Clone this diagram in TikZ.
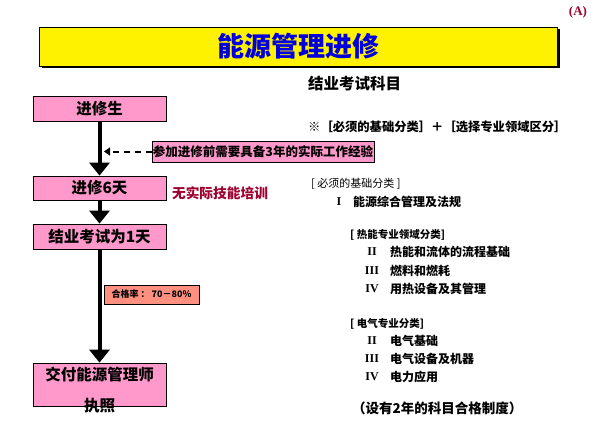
\documentclass[tikz,border=0pt]{standalone}
\usepackage{fontspec}
\newfontfamily\cjk{Noto Sans CJK SC}
\newfontfamily\serifb{Liberation Serif}
\usetikzlibrary{arrows.meta,shadows}
\definecolor{boxpink}{HTML}{FF99CC}
\definecolor{passfill}{HTML}{FF9080}
\definecolor{titleblue}{HTML}{0000DD}
\definecolor{darkred}{HTML}{A00030}
\newcommand{\fs}[1]{\fontsize{#1}{#1}\selectfont}
\begin{document}
\begin{tikzpicture}[x=1pt,y=-1pt,
  flowbox/.style={draw=black, line width=0.8pt, fill=boxpink, minimum width=133pt, minimum height=25pt, inner sep=0pt, font=\cjk\bfseries\fs{15.5}},
  bigarrow/.style={line width=4pt, -{Triangle[width=20pt,length=13pt]}},
  dasharrow/.style={line width=2pt, dash pattern=on 6pt off 5pt, -{Triangle[width=8pt,length=6pt]}},
  rtext/.style={anchor=west, inner sep=0pt, font=\cjk\bfseries\fs{12}},
  numeral/.style={inner sep=0pt, font=\serifb\bfseries\fs{12}},
  cathead/.style={anchor=west, inner sep=0pt, font=\cjk\bfseries\fs{10.5}}
]
\useasboundingbox (0,0) rectangle (595,444);
\fill[white] (0,0) rectangle (595,444);

% label (A)
\node[text=darkred, font=\serifb\bfseries\fs{13}, inner sep=0pt] (tagA) at (578,12) {(A)};

% title
\node[draw=black, line width=0.8pt, fill=yellow, minimum width=518pt, minimum height=39pt, inner sep=0pt,
  drop shadow={shadow xshift=2.5pt, shadow yshift=-2.5pt, fill=black, opacity=1},
  text=titleblue, font=\cjk\bfseries\fs{27}] (title) at (298,46.5) {能源管理进修};

% flow boxes
\node[flowbox] (s1) at (99.5,108.5) {进修生};
\node[flowbox, minimum height=24pt] (s2) at (99.5,188) {进修6天};
\node[flowbox] (s3) at (99.5,236.5) {结业考试为1天};
\node[flowbox, minimum height=43pt] (s4) at (99.5,384.5) {};
\node[inner sep=0pt, align=center, font=\cjk\bfseries\fontsize{15.5}{31}\selectfont] (s4text) at (99.5,390.5) {交付能源管理师\\执照};

\draw[bigarrow] (s1) -- (s2);
\draw[bigarrow] (s2) -- (s3);
\draw[bigarrow] (s3) -- (s4);

% requirement note
\node[draw=black, line width=0.8pt, fill=boxpink, minimum width=222pt, minimum height=21pt, inner sep=0pt,
  font=\cjk\bfseries\fs{12.5}] (req) at (263,151.5) {参加进修前需要具备3年的实际工作经验};
\coordinate (dhit) at (104,151.5);
\draw[dasharrow] (req.west) -- (dhit);

% red note
\node[text=darkred, font=\cjk\bfseries\fs{13.7}, inner sep=0pt] (nosk) at (220,193) {无实际技能培训};

% pass rate
\node[draw=black, line width=0.8pt, fill=passfill, minimum width=95pt, minimum height=19pt, inner sep=0pt,
  font=\cjk\bfseries\fs{9}] (pass) at (151.5,294.5) {合格率 ： 70－80\%};

% right column
\node[rtext, font=\cjk\bfseries\fs{15.5}] (subj) at (308,84) {结业考试科目};
\node[rtext, font=\cjk\bfseries\fs{12.3}] (formula) at (308,127) {※［必须的基础分类］＋［选择专业领域区分］};

\node[anchor=west, inner sep=0pt, font=\cjk\fs{11}] (basic) at (311,184) {[ 必须的基础分类 ]};
\node[numeral] (n1) at (339,202) {I};
\node[rtext] (b1) at (353,202) {能源综合管理及法规};

\node[cathead] (heat) at (350,235) {[ 热能专业领域分类]};
\node[numeral] (h2n) at (372,252) {II};
\node[rtext] (h2) at (390,252) {热能和流体的流程基础};
\node[numeral] (h3n) at (372,271) {III};
\node[rtext] (h3) at (390,271) {燃料和燃耗};
\node[numeral] (h4n) at (372,289) {IV};
\node[rtext] (h4) at (390,289) {用热设备及其管理};

\node[cathead] (elec) at (350,324) {[ 电气专业分类]};
\node[numeral] (e2n) at (372,341) {II};
\node[rtext] (e2) at (390,341) {电气基础};
\node[numeral] (e3n) at (372,359) {III};
\node[rtext] (e3) at (390,359) {电气设备及机器};
\node[numeral] (e4n) at (372,377) {IV};
\node[rtext] (e4) at (390,377) {电力应用};

\node[rtext, font=\cjk\bfseries\fs{13.5}] (note) at (352,408) {（设有2年的科目合格制度）};
\end{tikzpicture}
\end{document}
